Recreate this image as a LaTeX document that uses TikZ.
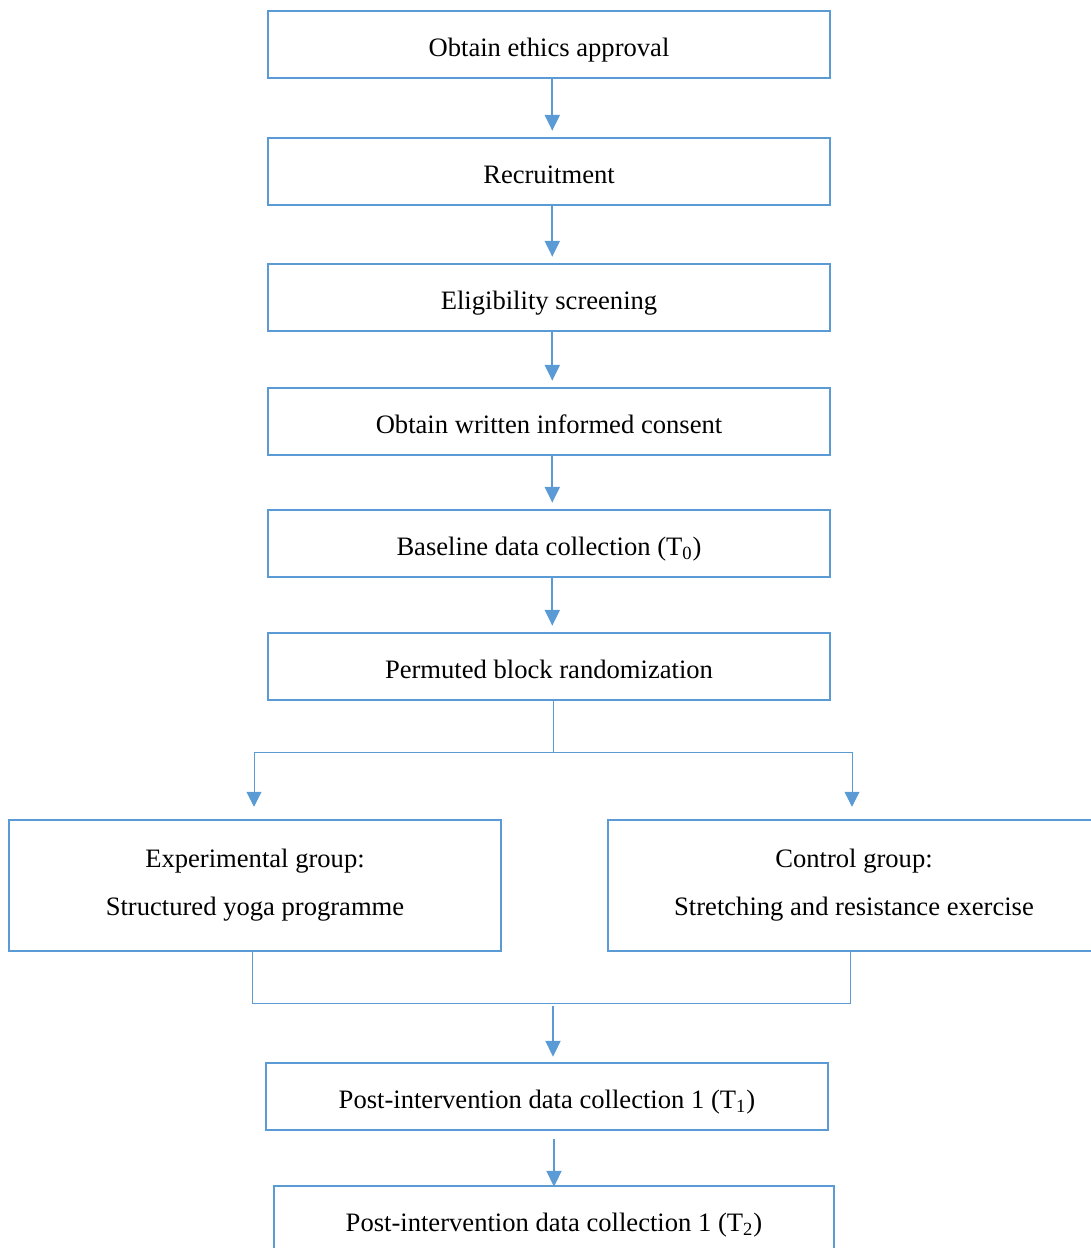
\documentclass[tikz,border=0pt]{standalone}
\usepackage{fontspec}
\setmainfont{Liberation Serif}
\usepackage{xcolor}
\usepackage{tikz}
\usetikzlibrary{arrows.meta}
\usetikzlibrary{positioning}

\begin{document}
\begin{tikzpicture}[
      % one unit = one pixel of the page, y pointing down
      x=0.5pt,
      y=-0.5pt,
      line join=miter,
      font=\fontsize{13.3}{16}\selectfont
  ]

  % Dimensions
  \def\bw{281pt}   % width of the step boxes
  \def\bh{33.5pt}  % height of the step boxes
  \def\gw{246pt}   % width of the group boxes
  \def\gh{65.5pt}  % height of the group boxes
  \def\dx{1.65pt}  % arrows sit a little right of the box centres

  % Palette
  \definecolor{wordblue}{RGB}{91, 155, 213}

  \tikzset{
      stepbox/.style={draw=wordblue, line width=1.25pt, rectangle, inner sep=0pt,
                      minimum width=\bw, minimum height=\bh,
                      text height=11.5pt, text depth=0pt},
      groupbox/.style={draw=wordblue, line width=1.25pt, rectangle, inner sep=0pt,
                      minimum width=\gw, minimum height=\gh, align=center},
      flow/.style={draw=wordblue, line width=1.1pt, -{Triangle[width=7.5pt,length=8pt]}},
      link/.style={draw=wordblue, line width=0.5pt},
      linkarrow/.style={link, -{Triangle[width=7.5pt,length=7.5pt]}}
  }

  \path[use as bounding box, clip] (0,0) rectangle (1091,1248);

  % 1. Steps before randomization
  \node[stepbox] (ethics)   at (549, 44.5)  {Obtain ethics approval};
  \node[stepbox] (recruit)  at (549, 171.5) {Recruitment};
  \node[stepbox] (screen)   at (549, 297.5) {Eligibility screening};
  \node[stepbox] (consent)  at (549, 421.5) {Obtain written informed consent};
  \node[stepbox] (baseline) at (549, 543.5) {Baseline data collection (T\textsubscript{0})};
  \node[stepbox] (random)   at (549, 666.5) {Permuted block randomization};

  \draw[flow, shorten >=3pt] ([xshift=\dx]ethics.south)   -- ([xshift=\dx]recruit.north);
  \draw[flow, shorten >=3pt] ([xshift=\dx]recruit.south)  -- ([xshift=\dx]screen.north);
  \draw[flow, shorten >=3pt] ([xshift=\dx]screen.south)   -- ([xshift=\dx]consent.north);
  \draw[flow, shorten >=3pt] ([xshift=\dx]consent.south)  -- ([xshift=\dx]baseline.north);
  \draw[flow, shorten >=3pt] ([xshift=\dx]baseline.south) -- ([xshift=\dx]random.north);

  % 2. The two arms
  \node[groupbox] (expgroup) at (255, 885.5)
      {Experimental group:\\[8pt]Structured yoga programme};
  \node[groupbox] (ctlgroup) at (854, 885.5)
      {Control group:\\[8pt]Stretching and resistance exercise};

  \coordinate (split) at (553, 752);
  \draw[link] (random.south) ++(4,0) -- (split);
  \draw[linkarrow, shorten >=6pt] (split) -| ([xshift=-0.5pt]expgroup.north);
  \draw[linkarrow, shorten >=6pt] (split) -| ([xshift=-1pt]ctlgroup.north);

  % 3. Follow-up
  \node[stepbox] (post1) at (547, 1096.5)
      {Post-intervention data collection 1 (T\textsubscript{1})};
  \node[stepbox, minimum width=280pt] (post2) at (554, 1219.5)
      {Post-intervention data collection 1 (T\textsubscript{2})};

  \coordinate (join) at (553, 1003);
  \draw[link] ([xshift=-1.5pt]expgroup.south) |- (join) -| ([xshift=-2pt]ctlgroup.south);
  \draw[flow, shorten <=1.5pt, shorten >=2.5pt] (join) -- ([xshift=3pt]post1.north);
  \draw[flow, shorten <=4pt, shorten >=-1pt] ([xshift=3.5pt]post1.south) -- (post2.north);

\end{tikzpicture}
\end{document}
